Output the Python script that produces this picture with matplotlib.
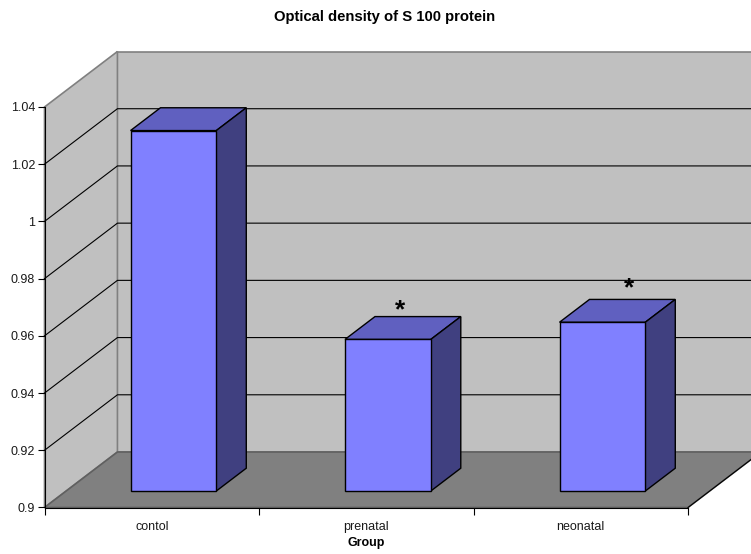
import matplotlib
matplotlib.use("Agg")
import matplotlib.pyplot as plt
from matplotlib.patches import Polygon

plt.rcParams["font.family"] = ["Liberation Sans", "DejaVu Sans"]

groups = ["contol", "prenatal", "neonatal"]
density = [1.026, 0.953, 0.959]
y_ticks = [0.9, 0.92, 0.94, 0.96, 0.98, 1.0, 1.02, 1.04]
y_tick_labels = ["0.9", "0.92", "0.94", "0.96", "0.98", "1", "1.02", "1.04"]

Y_MIN = 0.9
Y_MAX = 1.04
# shift of the back plane, in data units
DEPTH_X = 0.34
DEPTH_Y = 0.0194
BAR_WIDTH = 0.4
BAR_NEAR = 0.297
BAR_FAR = 0.708


def project(x, y, depth):
    return (x + depth * DEPTH_X, y + depth * DEPTH_Y)


def face(ax, corners, color, edge, lw=1.0, z=1):
    points = [project(*c) for c in corners]
    ax.add_patch(Polygon(points, closed=True, facecolor=color, edgecolor=edge,
                         linewidth=lw, zorder=z, clip_on=False, joinstyle="miter"))


def draw_box(ax, center, value):
    x0 = center - BAR_WIDTH / 2
    x1 = center + BAR_WIDTH / 2
    n = BAR_NEAR
    f = BAR_FAR
    face(ax, [(x0, value, n), (x1, value, n), (x1, value, f), (x0, value, f)], "#6060c0", "black", z=3)
    face(ax, [(x1, Y_MIN, n), (x1, Y_MIN, f), (x1, value, f), (x1, value, n)], "#404080", "black", z=3)
    face(ax, [(x0, Y_MIN, n), (x1, Y_MIN, n), (x1, value, n), (x0, value, n)], "#8080ff", "black", z=4)


fig = plt.figure(figsize=(7.51, 5.54), dpi=100)
ax = fig.add_axes([44.5 / 751, (554 - 507.5) / 554, 643.5 / 751, 400.5 / 554])
ax.set_xlim(0, 3)
ax.set_ylim(Y_MIN, Y_MAX)
ax.patch.set_visible(False)

# walls and floor
n_groups = len(groups)
face(ax, [(0, Y_MIN, 1), (n_groups, Y_MIN, 1), (n_groups, Y_MAX, 1), (0, Y_MAX, 1)], "#c0c0c0", "#808080", lw=1.2)
face(ax, [(0, Y_MIN, 0), (0, Y_MIN, 1), (0, Y_MAX, 1), (0, Y_MAX, 0)], "#c0c0c0", "#808080", lw=1.2)
face(ax, [(0, Y_MIN, 0), (n_groups, Y_MIN, 0), (n_groups, Y_MIN, 1), (0, Y_MIN, 1)], "#808080", "#606060", lw=1.2)

# the floor's right edge is darker than the back one
ax.plot(*zip(project(n_groups, Y_MIN, 0), project(n_groups, Y_MIN, 1)), color="black", lw=0.8, zorder=2, clip_on=False)

# grid runs along the side wall then the back wall
for tick in y_ticks[1:-1]:
    points = [project(0, tick, 0), project(0, tick, 1), project(n_groups, tick, 1)]
    ax.plot(*zip(*points), color="black", lw=0.8, zorder=2, clip_on=False)

for i, value in enumerate(density):
    draw_box(ax, i + 0.5, value)

# significance marks
ax.text(1.66, 0.9691, "*", fontsize=19, fontweight="bold", ha="center", va="center", color="black", zorder=5)
ax.text(2.725, 0.9767, "*", fontsize=19, fontweight="bold", ha="center", va="center", color="black", zorder=5)

ax.spines["top"].set_visible(False)
ax.spines["right"].set_visible(False)
ax.spines["left"].set_zorder(6)
ax.spines["bottom"].set_zorder(6)

ax.set_yticks(y_ticks)
ax.set_yticklabels(y_tick_labels)
ax.tick_params(axis="y", length=4.7, width=0.8, pad=2, labelsize=9, labelcolor="#1a1a1a")

ax.set_xticks(range(n_groups + 1))
ax.set_xticklabels([])
ax.tick_params(axis="x", which="major", length=4.7, width=0.8)
ax.set_xticks([i + 0.5 for i in range(n_groups)], minor=True)
ax.set_xticklabels(groups, minor=True)
ax.tick_params(axis="x", which="minor", length=0, pad=9.5, labelsize=9, labelcolor="#1a1a1a")

ax.set_xlabel("Group", fontsize=9, fontweight="bold", labelpad=3)
fig.text(385 / 751, 1 - 17 / 554, "Optical density of S 100 protein", fontsize=10.7, fontweight="bold", ha="center", va="center")

fig.savefig("out.png", dpi=100)
